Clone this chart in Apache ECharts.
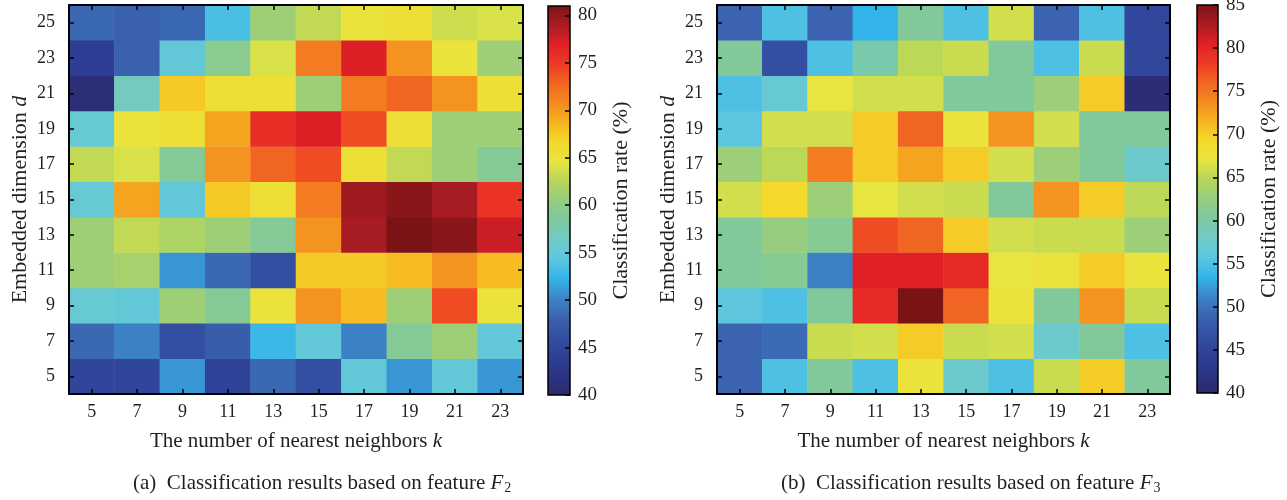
<!DOCTYPE html>
<html><head><meta charset="utf-8">
<script src="https://cdn.jsdelivr.net/npm/echarts@6/dist/echarts.min.js"></script>
<style>html,body{margin:0;padding:0;background:#fff}#c{width:1287px;height:500px}</style>
</head><body><div id="c"></div>
<script>
// categories
const kValues = ['5','7','9','11','13','15','17','19','21','23'];
const dValues = ['5','7','9','11','13','15','17','19','21','23','25'];

// Feature F2 classification rate (%), one array per embedded dimension d, k = 5..23
const f2_d5  = [45, 45, 51, 44.5, 48.5, 46, 55, 51, 55, 51];
const f2_d7  = [48.5, 50, 46, 47.5, 52.7, 55, 50, 59, 61, 55];
const f2_d9  = [55.5, 55, 61, 59, 65, 70.3, 68.3, 61, 74, 65];
const f2_d11 = [61, 61.5, 51, 48.5, 46, 67.5, 67.5, 68.3, 70.3, 68.3];
const f2_d13 = [61, 63, 62, 61, 59, 70.3, 79, 81, 80.3, 77.7];
const f2_d15 = [55.5, 69.5, 55, 67.5, 65.5, 71.6, 79.4, 80.3, 79, 75.5];
const f2_d17 = [63, 64, 59, 70.3, 72.8, 74, 65.5, 63, 61, 59];
const f2_d19 = [55.5, 65, 65.5, 69.5, 75.7, 77, 74, 65.5, 61, 61];
const f2_d21 = [41, 57, 67.5, 65.5, 65.5, 61, 71.6, 72.8, 70.3, 65.5];
const f2_d23 = [44, 48, 55, 59.5, 64, 71.6, 77, 70.3, 65, 61];
const f2_d25 = [48.5, 48, 48.5, 53.5, 61, 63, 65, 65.5, 63.5, 64];

// Feature F3 classification rate (%)
const f3_d5  = [49, 55, 60.5, 55, 67.5, 57.5, 55, 65.6, 70, 60.5];
const f3_d7  = [49, 49.5, 65.6, 66, 70, 65.6, 66, 57.5, 60.5, 55];
const f3_d9  = [56, 55, 60.5, 79.6, 85, 76, 67.5, 60.5, 73.3, 65.6];
const f3_d11 = [60.5, 61, 51, 80.5, 80.5, 79.6, 67, 67.5, 70, 67.5];
const f3_d13 = [60.5, 62.5, 61, 77.3, 76, 70, 66, 65.6, 65.6, 63];
const f3_d15 = [66, 69, 63, 67, 66, 65.6, 60.5, 73.3, 70, 65];
const f3_d17 = [63, 65, 74.6, 70, 72.4, 70, 66, 63, 60.5, 57.5];
const f3_d19 = [55.8, 66, 66, 70, 76, 67.5, 73.3, 66, 60.5, 60.5];
const f3_d21 = [55, 57, 67, 66, 66, 60.5, 60.5, 63, 70, 41];
const f3_d23 = [60.5, 46.8, 55, 59.5, 65, 65.6, 60.5, 55, 65.6, 45.5];
const f3_d25 = [49, 55, 49, 53.5, 60.5, 55, 66, 49, 55, 45.5];

// colour scale ranges
const f2Range = [40, 81];
const f3Range = [40, 85];
const colorTickStep = 5;

const colormap = ['#2b2a6c','#2c3483','#2e3f95','#3350a3','#3b63af','#3d85c8','#33b4e8','#5cc6e0','#70cbc8','#7ec89e',
                  '#96cd80','#b6d65a','#e8e540','#f5d82a','#f6b520','#f48a20','#f16522','#ee3a24','#e02026','#a81c22','#7a1315'];

const f2Rows = [f2_d5,f2_d7,f2_d9,f2_d11,f2_d13,f2_d15,f2_d17,f2_d19,f2_d21,f2_d23,f2_d25];
const f3Rows = [f3_d5,f3_d7,f3_d9,f3_d11,f3_d13,f3_d15,f3_d17,f3_d19,f3_d21,f3_d23,f3_d25];
function toCells(rows){ const out=[]; rows.forEach((r,di)=>r.forEach((v,ki)=>out.push([ki,di,v]))); return out; }

const FONT = '"Liberation Serif","DejaVu Serif",serif';
const TXT = '#231f20';
const lineS = {show:true, onZero:false, lineStyle:{color:'#000', width:2}};
const tickS = {show:true, inside:true, length:5, alignWithLabel:true, lineStyle:{color:'#000', width:1.5}};

function heatAxes(gi){
  return {
    x: [
      {type:'category', gridIndex:gi, data:kValues, position:'bottom', z:10, axisLine:lineS, axisTick:tickS,
       splitLine:{show:false}, splitArea:{show:false},
       axisLabel:{color:TXT, fontFamily:FONT, fontSize:18, margin:9},
       name:'The number of nearest neighbors {i|k}', nameLocation:'middle', nameGap:37,
       nameTextStyle:{color:TXT, fontFamily:FONT, fontSize:21, rich:{i:{fontStyle:'italic', fontFamily:FONT, fontSize:21, color:TXT}}}},
      {type:'category', gridIndex:gi, data:kValues, position:'top', z:10, axisLine:lineS, axisTick:tickS,
       axisLabel:{show:false}, splitLine:{show:false}}
    ],
    y: [
      {type:'category', gridIndex:gi, data:dValues, position:'left', z:10, axisLine:lineS, axisTick:tickS,
       splitLine:{show:false}, splitArea:{show:false},
       axisLabel:{color:TXT, fontFamily:FONT, fontSize:18, margin:14},
       name:'Embedded dimension {i|d}', nameLocation:'middle', nameGap:38, nameRotate:90,
       nameTextStyle:{color:TXT, fontFamily:FONT, fontSize:22, rich:{i:{fontStyle:'italic', fontFamily:FONT, fontSize:22, color:TXT}}}},
      {type:'category', gridIndex:gi, data:dValues, position:'right', z:10, axisLine:lineS, axisTick:tickS,
       axisLabel:{show:false}, splitLine:{show:false}}
    ]
  };
}
function cbAxes(gi, range){
  return {
    x: {type:'value', gridIndex:gi, min:0, max:1, show:false},
    y: {type:'value', gridIndex:gi, min:range[0], max:range[1], interval:colorTickStep, position:'right', z:10,
        axisLine:{show:false, onZero:false}, splitLine:{show:false},
        axisTick:{show:true, inside:true, length:5, lineStyle:{color:'#000', width:1.5}},
        axisLabel:{color:TXT, fontFamily:FONT, fontSize:19, margin:8, showMaxLabel: range[1] % colorTickStep === 0},
        name:'Classification rate (%)', nameLocation:'middle', nameGap:40, nameRotate:90,
        nameTextStyle:{color:TXT, fontFamily:FONT, fontSize:22}}
  };
}
const a0 = heatAxes(0), a1 = heatAxes(1), c0 = cbAxes(2, f2Range), c1 = cbAxes(3, f3Range);

function colorbarItem(params, api){
  const p0 = api.coord([0, api.value(1)]);
  const p1 = api.coord([1, api.value(2)]);
  return {type:'rect', shape:{x:p0[0], y:p1[1], width:p1[0]-p0[0], height:p0[1]-p1[1]},
    style:{fill:new echarts.graphic.LinearGradient(0,1,0,0, colormap.map((c,i)=>({offset:i/(colormap.length-1), color:c}))),
           stroke:'#000', lineWidth:1.5}};
}

const capStyle = {color:TXT, fontFamily:FONT, fontSize:21, fontWeight:'normal',
  rich:{i:{fontStyle:'italic', fontFamily:FONT, fontSize:21, color:TXT},
        s:{fontFamily:FONT, fontSize:14, color:TXT, padding:[9,0,0,1]}}};

const option = {
  animation:false,
  backgroundColor:'#fff',
  title:[
    {left:128, top:467, text:'(a)  Classification results based on feature {i|F}{s|2}', textStyle:capStyle},
    {left:776, top:467, text:'(b)  Classification results based on feature {i|F}{s|3}', textStyle:capStyle}
  ],
  grid:[
    {left:69, top:5, width:454, height:389, outerBoundsMode:'none'},
    {left:717, top:5, width:453, height:389, outerBoundsMode:'none'},
    {left:548, top:6, width:22, height:389, outerBoundsMode:'none'},
    {left:1197, top:5, width:21, height:388, outerBoundsMode:'none'}
  ],
  xAxis:[a0.x[0], a0.x[1], a1.x[0], a1.x[1], c0.x, c1.x],
  yAxis:[a0.y[0], a0.y[1], a1.y[0], a1.y[1], c0.y, c1.y],
  visualMap:[
    {type:'continuous', show:false, seriesIndex:0, min:f2Range[0], max:f2Range[1], inRange:{color:colormap}},
    {type:'continuous', show:false, seriesIndex:1, min:f3Range[0], max:f3Range[1], inRange:{color:colormap}}
  ],
  series:[
    {type:'heatmap', xAxisIndex:0, yAxisIndex:0, data:toCells(f2Rows), itemStyle:{borderWidth:0}, emphasis:{disabled:true}},
    {type:'heatmap', xAxisIndex:2, yAxisIndex:2, data:toCells(f3Rows), itemStyle:{borderWidth:0}, emphasis:{disabled:true}},
    {type:'custom', xAxisIndex:4, yAxisIndex:4, renderItem:colorbarItem, data:[[0, f2Range[0], f2Range[1]]], encode:{x:0, y:[1,2]}, silent:true, z:1},
    {type:'custom', xAxisIndex:5, yAxisIndex:5, renderItem:colorbarItem, data:[[0, f3Range[0], f3Range[1]]], encode:{x:0, y:[1,2]}, silent:true, z:1}
  ]
};
const chart = echarts.init(document.getElementById('c'), null, {renderer:'canvas'});
chart.setOption(option);
</script></body></html>
